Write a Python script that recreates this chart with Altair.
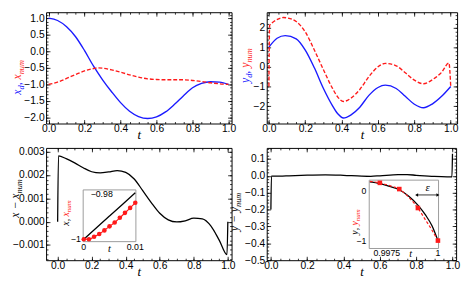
import altair as alt
import numpy as np
import pandas as pd

# ---------------- data ----------------
# top-left panel: x_d (blue) and x_num (red dashed)
TA = [0, 0.05, 0.1, 0.15, 0.2, 0.25, 0.3, 0.35, 0.4, 0.45, 0.5, 0.55, 0.6, 0.65, 0.7,
      0.75, 0.8, 0.85, 0.9, 0.95, 1.0]
XD = [1.0, 0.93, 0.74, 0.44, 0.02, -0.45, -0.86, -1.22, -1.55, -1.81, -1.97, -2.03, -1.98,
      -1.83, -1.6, -1.34, -1.1, -0.97, -0.92, -0.93, -1.0]
TA_N = [0, 0.05, 0.1, 0.15, 0.2, 0.25, 0.275, 0.3, 0.35, 0.4, 0.45, 0.5, 0.55, 0.6, 0.65,
        0.7, 0.75, 0.8, 0.85, 0.9, 0.95, 1.0]
XNUM = [-1.0, -0.93, -0.82, -0.7, -0.59, -0.52, -0.5, -0.51, -0.56, -0.63, -0.71, -0.78,
        -0.83, -0.85, -0.86, -0.86, -0.86, -0.88, -0.91, -0.95, -0.98, -1.0]

# top-right panel: y_d (blue) and y_num (red dashed)
TB = [0, 0.045, 0.09, 0.15, 0.2, 0.25, 0.3, 0.35, 0.38, 0.41, 0.45, 0.5, 0.55, 0.6, 0.64,
      0.7, 0.75, 0.8, 0.85, 0.9, 0.95, 1.0]
YD = [1.0, 1.45, 1.58, 1.42, 0.85, -0.05, -1.1, -1.98, -2.4, -2.6, -2.45, -2.05, -1.45,
      -1.05, -0.93, -1.1, -1.5, -1.9, -2.08, -1.88, -1.5, -1.0]
TB_N = [0, 0.004, 0.02, 0.05, 0.08, 0.1, 0.15, 0.2, 0.25, 0.3, 0.35, 0.38, 0.41, 0.45, 0.5,
        0.55, 0.6, 0.64, 0.7, 0.75, 0.8, 0.85, 0.9, 0.95, 0.99, 1.0]
YNUM = [-1.0, 2.1, 2.25, 2.42, 2.5, 2.48, 2.3, 1.77, 0.85, -0.15, -1.1, -1.55, -1.76, -1.6,
        -1.15, -0.5, 0.0, 0.17, 0.05, -0.3, -0.68, -0.86, -0.65, -0.28, 0.19, -1.0]

# bottom-left panel: x - x_num
TC = [0, 0.005, 0.05, 0.1, 0.15, 0.2, 0.25, 0.3, 0.35, 0.4, 0.45, 0.5, 0.55, 0.6, 0.65, 0.7,
      0.75, 0.8, 0.85, 0.9, 0.95, 0.995, 1.0]
DX = [0.0, 0.00282, 0.0027, 0.00252, 0.00231, 0.00214, 0.00209, 0.00213, 0.00219, 0.00211,
      0.00183, 0.00133, 0.00082, 0.00036, 0.00008, -0.00001, 0.00004, 0.00015, 0.00012,
      -0.00018, -0.0008, -0.00141, 0.0]

# bottom-right panel: y - y_num
TD = [0, 0.003, 0.05, 0.1, 0.2, 0.3, 0.4, 0.5, 0.55, 0.6, 0.7, 0.75, 0.8, 0.9, 0.97, 0.997, 1.0]
DY = [-0.2, -0.002, -0.002, 0.0, 0.004, 0.006, 0.003, -0.002, -0.003, 0.0, 0.007, 0.007,
      0.003, -0.004, -0.006, -0.006, 0.13]

# inset of bottom-left panel
IA_T = [0, 0.005, 0.01]
IA_X = [-1.0, -0.9897, -0.9794]
IA_TP = [0, 0.001, 0.002, 0.003, 0.004, 0.005, 0.006, 0.007, 0.008, 0.009, 0.01]
IA_XN = [-1.0, -1.0, -0.9989, -0.9977, -0.9961, -0.9943, -0.9926, -0.9905, -0.9883,
         -0.9861, -0.9838]

# inset of bottom-right panel
IB_T = [0.99667, 0.99715, 0.99763, 0.99811, 0.99859, 0.99902, 0.99939, 0.99971, 1.0]
IB_Y = [0.188, 0.156, 0.1, 0.031, -0.106, -0.28, -0.48, -0.7, -1.0]
IB_TR = [0.99667, 0.99716, 0.99763, 0.99811, 0.99859, 0.99902, 0.99939, 0.99971, 1.0]
IB_YR = [0.2, 0.17, 0.115, 0.044, -0.13, -0.34, -0.58, -0.79, -1.0]
IB_TP = [0.99716, 0.99811, 0.99902, 1.0]
IB_YP = [0.17, 0.044, -0.34, -1.0]

# ---------------- style ----------------
FONT = "Liberation Sans"
SERIF = "Liberation Serif"
LFS = 10.5
BLUE = "#1a1aff"
RED = "#ff1a1a"
ONE = pd.DataFrame({"k": [0]})
CW = {"x": 0.444, "y": 0.444, "d": 0.5, "n": 0.5, "u": 0.5, "m": 0.722, ",": 0.25,
      " ": 0.25, "\u2212": 0.675}


def ticks(lo, hi, step, dom):
    vals = np.round(np.arange(lo, hi + step / 2, step), 6)
    return [float(v) for v in vals if dom[0] <= v <= dom[1]]


def frame_axes(xs, ys, xdom, ydom, xmaj, xmin_, ymaj, ymin_, xfmt, yfmt):
    df = pd.DataFrame({"t": [xdom[0]], "v": [ydom[0]]})
    base = alt.Chart(df).mark_point(opacity=0, size=1)
    out = [base.encode(
        x=alt.X("t:Q", scale=xs, axis=alt.Axis(
            orient="bottom", values=xmaj, format=xfmt, ticks=False, domain=False, grid=False,
            labelFlush=False, labelOverlap=False, labelFont=FONT, labelFontSize=LFS,
            labelColor="#000", labelPadding=0, title="t", titleFont=SERIF, titleFontSize=13,
            titleFontStyle="italic", titleFontWeight="normal", titleColor="#000",
            titlePadding=-5)),
        y=alt.Y("v:Q", scale=ys, axis=alt.Axis(
            orient="left", values=ymaj, format=yfmt, ticks=False, domain=False, grid=False,
            labelFlush=False, labelOverlap=False, labelFont=FONT, labelFontSize=LFS,
            labelColor="#000", labelPadding=2, title=None)))]
    for ox, oy in (("bottom", "left"), ("top", "right")):
        for xv, yv, sz in ((xmaj, ymaj, 4), (xmin_, ymin_, 2)):
            out.append(base.encode(
                x=alt.X("t:Q", scale=xs, axis=alt.Axis(
                    orient=ox, values=xv, labels=False, domain=False, grid=False, title=None,
                    tickSize=sz, offset=-sz, tickColor="#000", tickWidth=0.8)),
                y=alt.Y("v:Q", scale=ys, axis=alt.Axis(
                    orient=oy, values=yv, labels=False, domain=False, grid=False, title=None,
                    tickSize=sz, offset=-sz, tickColor="#000", tickWidth=0.8))))
    return out


def line(t, v, xs, ys, color, dash=None, width=1.4):
    kw = {"strokeDash": dash} if dash else {}
    return alt.Chart(pd.DataFrame({"t": t, "v": v})).mark_line(
        color=color, strokeWidth=width, interpolate="monotone", **kw).encode(
        x=alt.X("t:Q", scale=xs, axis=None), y=alt.Y("v:Q", scale=ys, axis=None))


def rich_title(parts, x, yc, big=12.0, small=8.5):
    """rotated multi-colour title; parts = (text, colour, is_subscript)"""
    total = sum(sum(CW.get(c, 0.5) for c in txt) * (small if sub else big)
                for txt, _, sub in parts)
    off = -total / 2
    out = []
    for txt, col, sub in parts:
        sz = small if sub else big
        w = sum(CW.get(c, 0.5) for c in txt) * sz
        if txt.strip():
            out.append(alt.Chart(ONE).mark_text(
                text=txt, color=col, fontSize=sz, font=SERIF, fontStyle="italic", angle=270,
                align="left", baseline="alphabetic", dx=off, dy=(3 if sub else 0)).encode(
                x=alt.value(x), y=alt.value(yc)))
        off += w
    return out


def rect_frame(xdom, ydom, xs, ys, fill="white", stroke="#9a9a9a"):
    fr = pd.DataFrame({"t": [xdom[0]], "t2": [xdom[1]], "v": [ydom[0]], "v2": [ydom[1]]})
    return alt.Chart(fr).mark_rect(fill=fill, stroke=stroke, strokeWidth=1).encode(
        x=alt.X("t:Q", scale=xs, axis=None), x2="t2",
        y=alt.Y("v:Q", scale=ys, axis=None), y2="v2")


def panel(data_layers, axes, extras, W, H):
    core = alt.layer(*data_layers, *axes).resolve_axis(x="independent", y="independent")
    return alt.layer(core, *extras).resolve_scale(
        x="independent", y="independent").properties(width=W, height=H)


def label(txt, t, v, xs, ys, align="center", baseline="middle", dx=0, dy=0, size=9,
          italic=False, color="#000", font=FONT):
    kw = {"fontStyle": "italic"} if italic else {}
    return alt.Chart(pd.DataFrame({"t": [t], "v": [v]})).mark_text(
        text=txt, align=align, baseline=baseline, dx=dx, dy=dy, fontSize=size, font=font,
        color=color, **kw).encode(
        x=alt.X("t:Q", scale=xs, axis=None), y=alt.Y("v:Q", scale=ys, axis=None))


# ---------------- panel 1 ----------------
W1, H1 = 190, 114
d1x, d1y = [-0.014, 1.017], [-2.18, 1.18]
xs1 = alt.Scale(domain=d1x, nice=False, zero=False)
ys1 = alt.Scale(domain=d1y, nice=False, zero=False)
p1 = panel(
    [line(TA, XD, xs1, ys1, BLUE), line(TA_N, XNUM, xs1, ys1, RED, dash=[4, 2])],
    frame_axes(xs1, ys1, d1x, d1y, ticks(0, 1, 0.2, d1x), ticks(0, 1, 0.05, d1x),
               ticks(-2, 1, 0.5, d1y), ticks(-2.1, 1.1, 0.1, d1y), ".1f", ".1f"),
    rich_title([("x", BLUE, False), ("d", BLUE, True), (",", BLUE, False), (" ", RED, False),
                ("x", RED, False), ("num", RED, True)], -26, 0.585 * H1),
    W1, H1)

# ---------------- panel 2 ----------------
W2, H2 = 195, 114
d2x, d2y = [-0.012, 1.035], [-2.88, 2.77]
xs2 = alt.Scale(domain=d2x, nice=False, zero=False)
ys2 = alt.Scale(domain=d2y, nice=False, zero=False)
p2 = panel(
    [line(TB, YD, xs2, ys2, BLUE), line(TB_N, YNUM, xs2, ys2, RED, dash=[4, 2])],
    frame_axes(xs2, ys2, d2x, d2y, ticks(0, 1, 0.2, d2x), ticks(0, 1, 0.05, d2x),
               ticks(-2, 2, 1, d2y), ticks(-2.8, 2.6, 0.2, d2y), ".1f", "d"),
    rich_title([("y", BLUE, False), ("d", BLUE, True), (",", BLUE, False), (" ", RED, False),
                ("y", RED, False), ("num", RED, True)], -18, 0.48 * H2),
    W2, H2)

# ---------------- panel 3 ----------------
W3, H3 = 190, 115
d3x, d3y = [-0.068, 1.022], [-0.00165, 0.00316]
xs3 = alt.Scale(domain=d3x, nice=False, zero=False)
ys3 = alt.Scale(domain=d3y, nice=False, zero=False)

IA_XDOM, IA_YDOM = [-0.00012, 0.01012], [-1.0011, -0.9781]
xa = alt.Scale(domain=IA_XDOM, range=[38, 92], nice=False, zero=False)
ya = alt.Scale(domain=IA_YDOM, range=[96, 43], nice=False, zero=False)

inset_a = alt.layer(
    rect_frame(IA_XDOM, IA_YDOM, xa, ya),
    line(IA_T, IA_X, xa, ya, "#000", width=1.3),
    line(IA_TP, IA_XN, xa, ya, RED, width=1.2),
    alt.Chart(pd.DataFrame({"t": IA_TP, "v": IA_XN})).mark_circle(
        color=RED, opacity=1, size=22).encode(
        x=alt.X("t:Q", scale=xa, axis=None), y=alt.Y("v:Q", scale=ya, axis=None)),
    label("\u22120.98", 0, -0.98, xa, ya, align="left", dx=7),
    label("\u22121", 0, -1.0, xa, ya, align="right", dx=-3),
    label("0", 0, IA_YDOM[0], xa, ya, baseline="top", dy=2),
    label("0.01", 0.01, IA_YDOM[0], xa, ya, baseline="top", dy=2),
    label("t", 0.005, IA_YDOM[0], xa, ya, baseline="top", dy=3, size=10.5, italic=True,
          font=SERIF),
)

p3 = panel(
    [line(TC, DX, xs3, ys3, "#000", width=1.3)],
    frame_axes(xs3, ys3, d3x, d3y, ticks(0, 1, 0.2, d3x), ticks(0, 1, 0.05, d3x),
               ticks(-0.001, 0.003, 0.001, d3y), ticks(-0.0016, 0.0032, 0.0002, d3y),
               ".1f", ".3f"),
    rich_title([("x", "#000", False), (" ", "#000", False), ("\u2212", "#000", False),
                (" ", "#000", False), ("x", "#000", False), ("num", "#000", True)],
               -28, 0.45 * H3)
    + rich_title([("x", "#000", False), (",", "#000", False), (" ", RED, False),
                  ("x", RED, False), ("num", RED, True)], 23, 0.58 * H3, big=10, small=7)
    + [inset_a],
    W3, H3)

# ---------------- panel 4 ----------------
W4, H4 = 194, 115
d4x, d4y = [-0.023, 1.02], [-0.5, 0.165]
xs4 = alt.Scale(domain=d4x, nice=False, zero=False)
ys4 = alt.Scale(domain=d4y, nice=False, zero=False)

IB_XDOM, IB_YDOM = [0.99664, 1.00003], [-1.16, 0.225]
xb = alt.Scale(domain=IB_XDOM, range=[105, 176], nice=False, zero=False)
yb = alt.Scale(domain=IB_YDOM, range=[103, 33], nice=False, zero=False)

EPS_T = [0.99896, 1.0]
EPS_V = [-0.075, -0.075]

inset_b = alt.layer(
    rect_frame(IB_XDOM, IB_YDOM, xb, yb),
    line(IB_T, IB_Y, xb, yb, "#000", width=1.3),
    line(IB_TR, IB_YR, xb, yb, RED, dash=[3, 2], width=1.2),
    alt.Chart(pd.DataFrame({"t": IB_TP, "v": IB_YP})).mark_square(
        color=RED, opacity=1, size=22).encode(
        x=alt.X("t:Q", scale=xb, axis=None), y=alt.Y("v:Q", scale=yb, axis=None)),
    alt.Chart(pd.DataFrame({"t": [EPS_T[0]], "t2": [EPS_T[1]], "v": [EPS_V[0]]})).mark_rule(
        color="#000", strokeWidth=0.8).encode(
        x=alt.X("t:Q", scale=xb, axis=None), x2="t2", y=alt.Y("v:Q", scale=yb, axis=None)),
    alt.Chart(pd.DataFrame({"t": [EPS_T[0]], "v": [EPS_V[0]]})).mark_point(
        shape="triangle-left", filled=True, color="#000", size=12, opacity=1).encode(
        x=alt.X("t:Q", scale=xb, axis=None), y=alt.Y("v:Q", scale=yb, axis=None)),
    alt.Chart(pd.DataFrame({"t": [EPS_T[1]], "v": [EPS_V[1]]})).mark_point(
        shape="triangle-right", filled=True, color="#000", size=12, opacity=1).encode(
        x=alt.X("t:Q", scale=xb, axis=None), y=alt.Y("v:Q", scale=yb, axis=None)),
    label("\u03b5", 0.9995, 0.07, xb, yb, size=11, italic=True, font=SERIF),
    label("0", IB_XDOM[0], 0.0, xb, yb, align="right", dx=-3),
    label("\u22121", IB_XDOM[0], -1.0, xb, yb, align="right", dx=-3),
    label("0.9975", 0.9975, IB_YDOM[0], xb, yb, baseline="top", dy=1),
    label("1", 1.0, IB_YDOM[0], xb, yb, baseline="top", dy=1),
    label("t", 0.99867, IB_YDOM[0], xb, yb, baseline="top", dy=1, size=10.5, italic=True,
          font=SERIF),
)

p4 = panel(
    [line(TD, DY, xs4, ys4, "#000", width=1.3)],
    frame_axes(xs4, ys4, d4x, d4y, ticks(0, 1, 0.2, d4x), ticks(0, 1, 0.05, d4x),
               ticks(-0.5, 0.1, 0.1, d4y), ticks(-0.5, 0.16, 0.02, d4y), ".1f", ".1f"),
    rich_title([("y", "#000", False), (" ", "#000", False), ("\u2212", "#000", False),
                (" ", "#000", False), ("y", "#000", False), ("num", "#000", True)],
               -29, 0.57 * H4)
    + rich_title([("y", "#000", False), (",", "#000", False), (" ", RED, False),
                  ("y", RED, False), ("num", RED, True)], 93, 0.66 * H4, big=10, small=7)
    + [inset_b],
    W4, H4)

chart = alt.concat(p1, p2, p3, p4, columns=2, spacing={"row": 25, "column": 36},
                   bounds="flush").properties(
    padding={"left": 0, "top": 0, "right": 0, "bottom": 0}
).configure_view(stroke="#000", strokeWidth=1)

chart.save("out.html", embed_options={"renderer": "svg", "actions": False})
